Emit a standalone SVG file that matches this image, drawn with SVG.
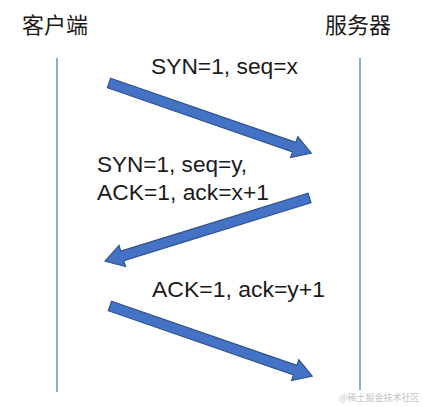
<svg xmlns="http://www.w3.org/2000/svg" width="423" height="407" viewBox="0 0 423 407">
<style>
.t{font-family:"Liberation Sans","Noto Sans CJK SC",sans-serif;fill:#1a1a1a;font-size:22px}
.cn{font-family:"Noto Sans CJK SC",sans-serif;fill:#1a1a1a;font-size:22px}
.life{stroke:#4a72b8;stroke-width:1.2;fill:none}
.arrow{fill:#4472c4;stroke:#2f528f;stroke-width:1.2;stroke-linejoin:miter}
.wm{font-family:"Noto Sans CJK SC",sans-serif;fill:#c4c4c4;font-size:9px}
</style>
<defs>
<polygon id="arr" points="0,-5 196,-5 196,-11 214,0 196,11 196,5 0,5"/>
</defs>
<rect width="423" height="407" fill="#ffffff"/>
<g id="client">
<text class="cn" x="22" y="33">客户端</text>
<line class="life" x1="57" y1="58" x2="57" y2="392"/>
</g>
<g id="server">
<text class="cn" x="325" y="33">服务器</text>
<line class="life" x1="360" y1="58" x2="360" y2="390"/>
</g>
<g id="connectors">
<use href="#arr" class="arrow" transform="translate(109,83) rotate(19.1)"/>
<use href="#arr" class="arrow" transform="translate(309.5,198) rotate(162.8)"/>
<use href="#arr" class="arrow" transform="translate(110,306) rotate(19.1)"/>
</g>
<g id="labels">
<text class="t" x="151" y="74" textLength="147" lengthAdjust="spacingAndGlyphs">SYN=1, seq=x</text>
<text class="t" x="97" y="172" textLength="150" lengthAdjust="spacingAndGlyphs">SYN=1, seq=y,</text>
<text class="t" x="97" y="200" textLength="172" lengthAdjust="spacingAndGlyphs">ACK=1, ack=x+1</text>
<text class="t" x="152" y="297" textLength="173" lengthAdjust="spacingAndGlyphs">ACK=1, ack=y+1</text>
</g>
<text class="wm" x="339" y="401">@稀土掘金技术社区</text>
</svg>
